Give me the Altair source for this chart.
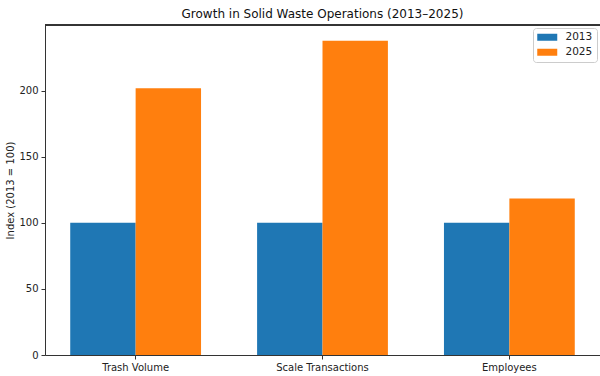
import altair as alt
import pandas as pd

categories = ["Trash Volume", "Scale Transactions", "Employees"]
years = ["2013", "2025"]
values_2013 = [100, 100, 100]
values_2025 = [201.7, 237.7, 118.3]
colors = ["#1f77b4", "#ff7f0e"]

rows = []
for c, v in zip(categories, values_2013):
    rows.append({"category": c, "year": "2013", "value": v})
for c, v in zip(categories, values_2025):
    rows.append({"category": c, "year": "2025", "value": v})
df = pd.DataFrame(rows)

W, H = 555, 330
FONT = "DejaVu Sans"

bars = alt.Chart(df).mark_bar().encode(
    x=alt.X("category:N", sort=categories,
            scale=alt.Scale(paddingInner=0.3, paddingOuter=0.135),
            axis=alt.Axis(title=None, labelAngle=0, tickSize=4, labelFontSize=10,
                          labelPadding=3, domainColor="#333", tickColor="#333",
                          labelColor="#222", labelFont=FONT)),
    xOffset=alt.XOffset("year:N", sort=years, scale=alt.Scale(paddingInner=0, paddingOuter=0)),
    y=alt.Y("value:Q", scale=alt.Scale(domain=[0, 249.6], nice=False, zero=True),
            axis=alt.Axis(title="Index (2013 = 100)", values=[0, 50, 100, 150, 200],
                          grid=False, tickSize=4, labelFontSize=10, labelPadding=3,
                          titleFontSize=10, titleFontWeight="normal", titlePadding=3,
                          domainColor="#333", tickColor="#333", labelColor="#222",
                          titleColor="#222", labelFont=FONT, titleFont=FONT)),
    color=alt.Color("year:N", sort=years,
                    scale=alt.Scale(domain=years, range=colors),
                    legend=alt.Legend(title=None, orient="top-right", offset=3,
                                      symbolType="M-1,-0.7H3V0.7H-1Z", symbolSize=100,
                                      symbolStrokeWidth=0, labelFontSize=10.5, labelFont=FONT,
                                      labelColor="#222", labelOffset=18,
                                      strokeColor="#ccc", fillColor="white",
                                      cornerRadius=3, padding=4, rowPadding=4)),
)

top_rule = alt.Chart(df).mark_rule(color="#333", strokeWidth=1).encode(
    x=alt.value(0), x2=alt.value(W), y=alt.value(0)
)

chart = alt.layer(bars, top_rule).properties(
    width=W, height=H,
    title=alt.Title("Growth in Solid Waste Operations (2013–2025)", fontSize=12,
                    fontWeight="normal", font=FONT, color="#111", offset=4),
    padding={"left": 45, "top": 25, "right": 0, "bottom": 21},
    autosize="none",
).configure_view(stroke=None).configure(background="white")

chart.save("out.html", embed_options={"renderer": "svg", "actions": False})
